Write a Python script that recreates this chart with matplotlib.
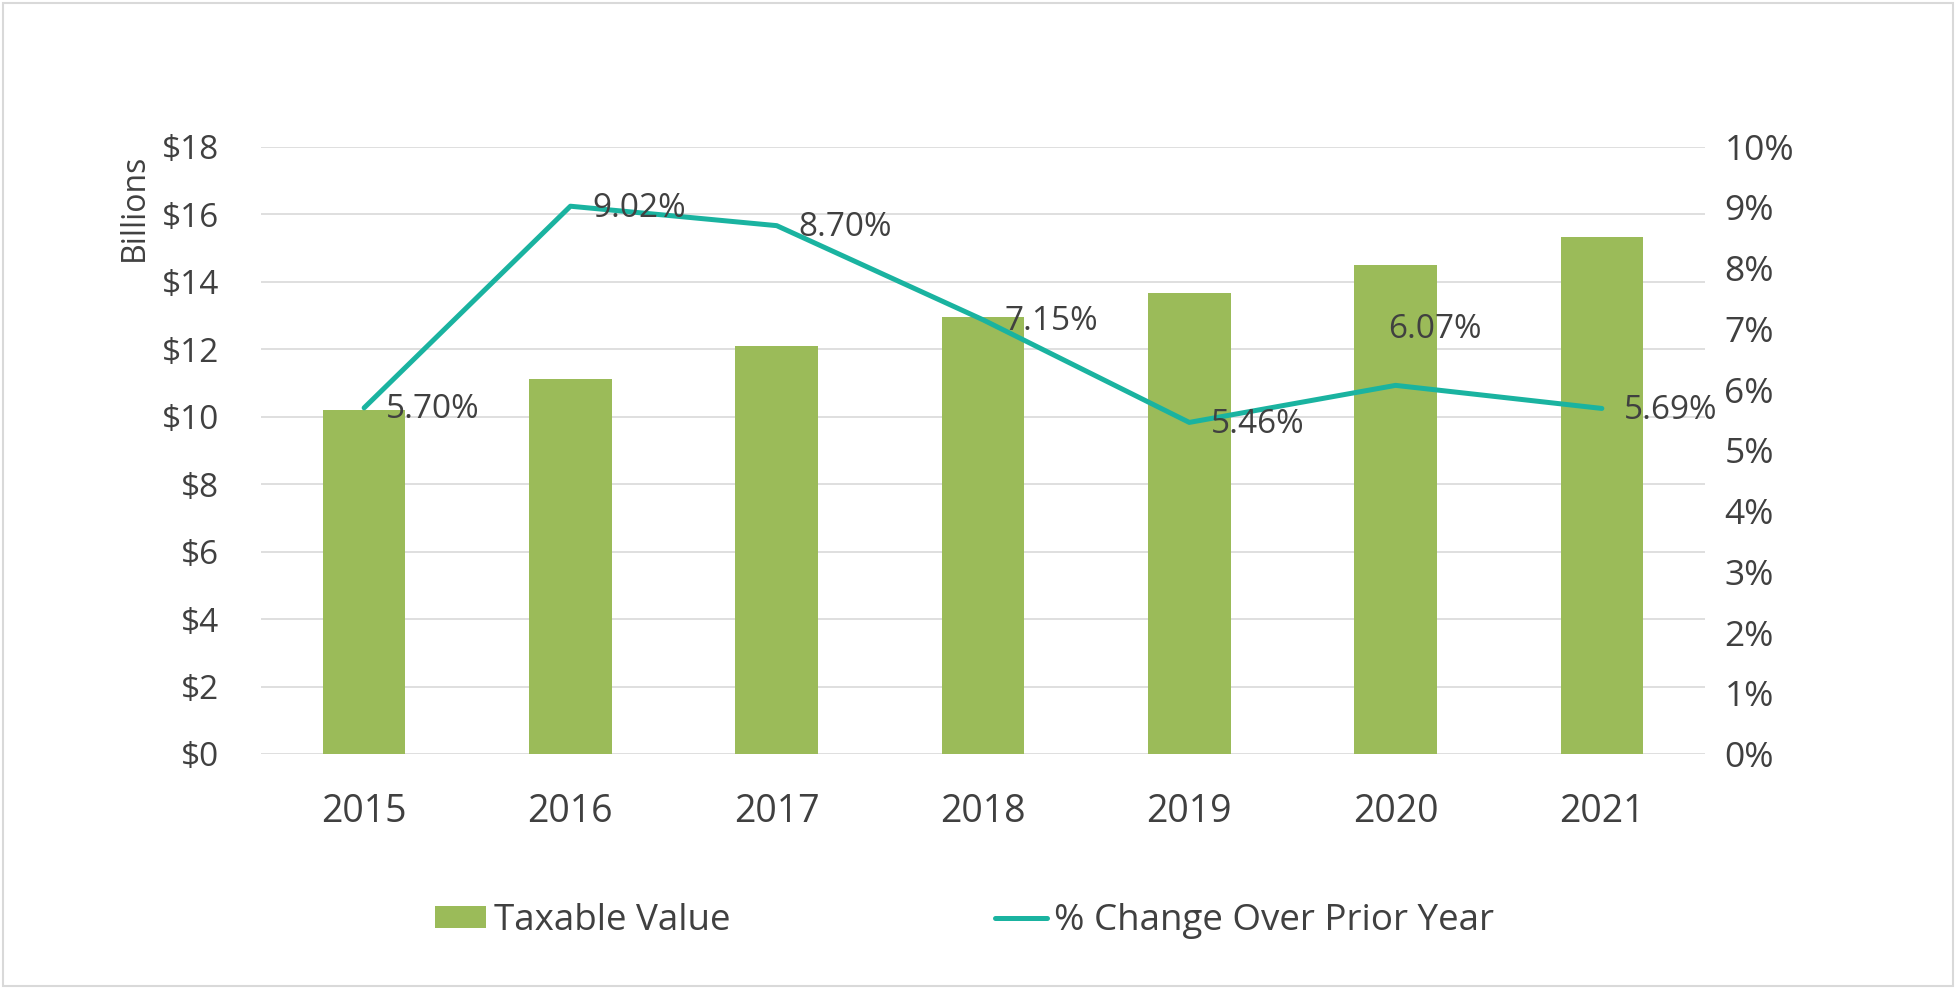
import matplotlib
matplotlib.use("Agg")
import matplotlib.pyplot as plt
from matplotlib.patches import Rectangle
from matplotlib.ticker import FuncFormatter, MultipleLocator

years = ["2015", "2016", "2017", "2018", "2019", "2020", "2021"]
taxable_value = [10.19, 11.11, 12.09, 12.95, 13.65, 14.48, 15.31]
pct_change = [5.70, 9.02, 8.70, 7.15, 5.46, 6.07, 5.69]
pct_labels = ["5.70%", "9.02%", "8.70%", "7.15%", "5.46%", "6.07%", "5.69%"]

plt.rcParams['font.family'] = ['Open Sans', 'DejaVu Sans']
TXT = "#404040"
BAR = "#9BBB59"
LINE = "#1AB3A0"
GRID = "#D9D9D9"

W, H = 1956, 989
fig = plt.figure(figsize=(W / 100, H / 100), dpi=100)
fig.patch.set_facecolor("white")
fig.patches.append(Rectangle((3 / W, 3 / H), 1 - 6 / W, 1 - 6 / H, transform=fig.transFigure,
                             fill=False, edgecolor=GRID, linewidth=1.5))

ax = fig.add_axes([261 / W, 1 - 754 / H, (1705 - 261) / W, (754 - 146.7) / H])
x = list(range(len(years)))
ax.bar(x, taxable_value, width=0.4, color=BAR, zorder=2, label="Taxable Value")
ax.set_xlim(-0.5, len(years) - 0.5)
ax.set_ylim(0, 18)
ax.yaxis.set_major_locator(MultipleLocator(2))
ax.yaxis.set_major_formatter(FuncFormatter(lambda v, p: f"${v:.0f}"))
ax.set_xticks(x)
ax.set_xticklabels(years)
ax.grid(axis="y", color=GRID, linewidth=1.2, zorder=0)
ax.set_axisbelow(True)
for s in ax.spines.values():
    s.set_visible(False)
ax.tick_params(axis="y", length=0, labelsize=24, colors=TXT, pad=30)
ax.tick_params(axis="x", length=0, labelsize=27, colors=TXT, pad=28)
ax.text(-0.088, 0.9, "Billions", transform=ax.transAxes, rotation=90, ha="center", va="center",
        fontsize=23, color=TXT)

ax2 = ax.twinx()
ax2.set_ylim(0, 10)
ax2.yaxis.set_major_locator(MultipleLocator(1))
ax2.yaxis.set_major_formatter(FuncFormatter(lambda v, p: f"{v:.0f}%"))
for s in ax2.spines.values():
    s.set_visible(False)
ax2.tick_params(axis="y", length=0, labelsize=25.5, colors=TXT, pad=14)
ax2.plot(x, pct_change, color=LINE, linewidth=3.6, solid_capstyle="round", solid_joinstyle="round",
         zorder=3, label="% Change Over Prior Year")

for i, (v, lab) in enumerate(zip(pct_change, pct_labels)):
    if i == 5:
        ax2.annotate(lab, (i, v), xytext=(39, 56), textcoords="offset pixels", ha="center", va="center",
                     fontsize=24, color=TXT)
    else:
        ax2.annotate(lab, (i, v), xytext=(22, -2), textcoords="offset pixels", ha="left", va="center",
                     fontsize=24, color=TXT)

h1, l1 = ax.get_legend_handles_labels()
h2, l2 = ax2.get_legend_handles_labels()
fig.legend(h1 + h2, l1 + l2, loc="center", bbox_to_anchor=(0.493, 0.069), ncol=2, frameon=False,
           fontsize=26.5, labelcolor=TXT, handlelength=1.4, handleheight=0.55, handletextpad=0.2,
           columnspacing=7.2)

fig.savefig("out.png", dpi=100, facecolor="white")
